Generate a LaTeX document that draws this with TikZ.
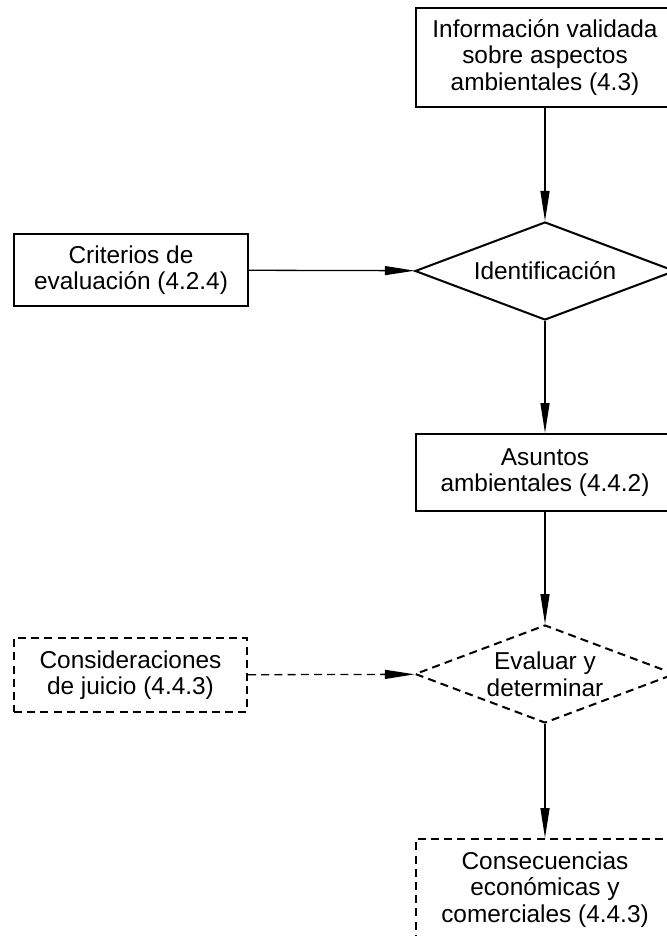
\documentclass[tikz,border=0pt]{standalone}
\usepackage{fontspec}
\setmainfont{Liberation Sans}
\usetikzlibrary{shapes.geometric,arrows.meta}
\tikzset{
  caja/.style={draw,line width=1pt,align=center,inner sep=0pt,
    minimum width=129pt,font=\fontsize{12.2}{13.3}\selectfont},
  rombo/.style={draw,diamond,line width=1pt,align=center,inner sep=0pt,
    aspect=2.65,minimum width=130pt,minimum height=49pt,
    font=\fontsize{12.2}{13.3}\selectfont},
  discont/.style={dash pattern=on 4pt off 2.6pt},
  flecha/.style={line width=0.65pt,-{Triangle[length=15pt,width=4.5pt]}}
}

\begin{document}
\begin{tikzpicture}[x=0.5pt,y=-0.5pt]
\path[use as bounding box,clip] (0,0) rectangle (667,936);

\node[caja,minimum height=49.5pt] (info) at (545,57.5)
  {Información validada\\sobre aspectos\\ambientales (4.3)};
\node[rombo] (ident) at (545,271) {Identificación};
\node[caja,minimum width=117pt,minimum height=36pt] (crit) at (131,270)
  {Criterios de\\evaluación (4.2.4)};

\node[caja,minimum height=38.5pt] (asun) at (545,472.5)
  {Asuntos\\ambientales (4.4.2)};

\node[rombo,discont] (eval) at (545,674) {Evaluar y\\determinar};
\node[caja,discont,minimum width=116.5pt,minimum height=37pt] (consid) at (130.5,675)
  {Consideraciones\\de juicio (4.4.3)};

\node[caja,discont,minimum height=50.5pt] (consec) at (545,889.5)
  {Consecuencias\\económicas y\\comerciales (4.4.3)};

\draw [flecha] (info) -- (ident);
\draw [flecha] (crit) -- (ident);
\draw [flecha] (ident) -- (asun);
\draw [flecha] (asun) -- (eval);
\draw [flecha,discont] (consid) -- (eval);
\draw [flecha] (eval) -- (consec);
\end{tikzpicture}
\end{document}
